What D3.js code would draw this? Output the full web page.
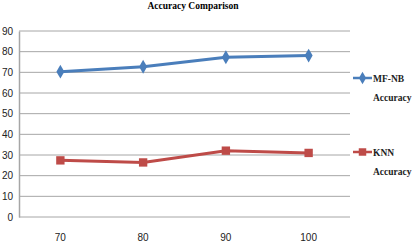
<!DOCTYPE html>
<html>
<head>
<meta charset="utf-8">
<script src="https://cdn.jsdelivr.net/npm/d3@7"></script>
<style>
  body { margin: 0; background: #fff; }
</style>
</head>
<body>
<div id="chart"></div>
<script>
let categories = ['70', '80', '90', '100']
let mfnbValues = [70.3, 72.7, 77.3, 78.1]
let knnValues = [27.4, 26.4, 32.1, 31.0]
let yTicks = [0, 10, 20, 30, 40, 50, 60, 70, 80, 90]
let seriesNames = [['MF-NB', 'Accuracy'], ['KNN', 'Accuracy']]

let width = 413
let height = 244
let margin = { top: 31, left: 19, right: 63, bottom: 27 }

let svg = d3
  .select('#chart')
  .append('svg')
  .attr('width', width)
  .attr('height', height)

svg.append('rect').attr('width', width).attr('height', height).attr('fill', '#fff')

let x = d3.scaleBand()
  .domain(categories)
  .range([margin.left, width - margin.right])

let y = d3.scaleLinear()
  .domain([0, 90])
  .range([height - margin.bottom, margin.top])

// title
svg.append('text')
  .text('Accuracy Comparison')
  .attr('x', 193)
  .attr('y', 9)
  .attr('text-anchor', 'middle')
  .attr('font-family', 'Liberation Serif, serif')
  .attr('font-weight', 'bold')
  .attr('font-size', '9.5px')

// gridlines
svg.append('g')
  .selectAll('line')
  .data(yTicks)
  .enter()
  .append('line')
  .attr('x1', margin.left)
  .attr('x2', width - margin.right)
  .attr('y1', d => y(d))
  .attr('y2', d => y(d))
  .attr('stroke', '#a6a6a6')
  .attr('stroke-width', 1)

// y axis
let yAxis = svg.append('g')
  .attr('transform', 'translate(' + margin.left + ',0)')
  .call(d3.axisLeft(y).tickValues(yTicks).tickSize(0).tickPadding(6))
yAxis.select('.domain').attr('stroke', '#a6a6a6').attr('stroke-width', 1.5)
yAxis.selectAll('text')
  .attr('font-family', 'Liberation Sans Narrow, Liberation Sans, sans-serif')
  .attr('font-size', '10px')
  .attr('fill', '#222')

// x axis labels
let xAxis = svg.append('g')
  .attr('transform', 'translate(0,' + (height - margin.bottom) + ')')
  .call(d3.axisBottom(x).tickSize(0).tickPadding(17))
xAxis.select('.domain').remove()
xAxis.selectAll('text')
  .attr('font-family', 'Liberation Sans Narrow, Liberation Sans, sans-serif')
  .attr('font-size', '10px')
  .attr('fill', '#222')

let cx = d => x(d) + x.bandwidth() / 2
let line = d3.line()
  .x(d => cx(d.cat))
  .y(d => y(d.v))

let series = [
  { values: mfnbValues, color: '#4a7ebb', shape: d3.symbolDiamond, size: 55 },
  { values: knnValues, color: '#be4b48', shape: d3.symbolSquare, size: 70 }
]

series.forEach(function (s) {
  let pts = categories.map((c, i) => ({ cat: c, v: s.values[i] }))
  svg.append('path')
    .datum(pts)
    .attr('d', line)
    .attr('fill', 'none')
    .attr('stroke', s.color)
    .attr('stroke-width', 3)
  svg.append('g')
    .selectAll('path')
    .data(pts)
    .enter()
    .append('path')
    .attr('d', d3.symbol().type(s.shape).size(s.size))
    .attr('transform', d => 'translate(' + cx(d.cat) + ',' + y(d.v) + ')')
    .attr('fill', s.color)
})

// legend
let legendY = [78, 152]
series.forEach(function (s, i) {
  let g = svg.append('g').attr('transform', 'translate(353,' + legendY[i] + ')')
  g.append('line')
    .attr('x1', 0).attr('x2', 19)
    .attr('stroke', s.color)
    .attr('stroke-width', 2.5)
  g.append('path')
    .attr('d', d3.symbol().type(s.shape).size(s.size * 0.8))
    .attr('transform', 'translate(9.5,0)')
    .attr('fill', s.color)
  g.selectAll('text')
    .data(seriesNames[i])
    .enter()
    .append('text')
    .text(d => d)
    .attr('x', 20)
    .attr('y', (d, j) => 4 + j * 19)
    .attr('font-family', 'Liberation Serif, serif')
    .attr('font-weight', 'bold')
    .attr('font-size', '9.5px')
    .attr('fill', '#222')
})
</script>
</body>
</html>
